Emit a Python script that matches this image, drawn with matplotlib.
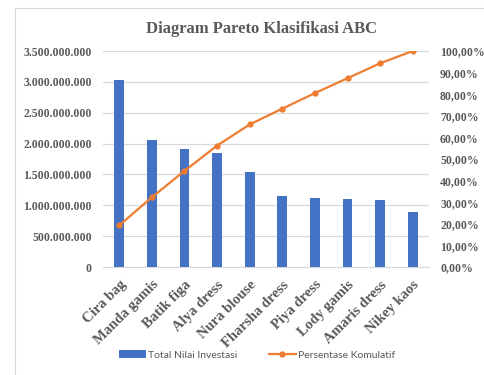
import matplotlib.pyplot as plt
from matplotlib.patches import Rectangle
from matplotlib.ticker import FuncFormatter, MultipleLocator

categories = ["Cira bag", "Manda gamis", "Batik figa", "Alya dress", "Nura blouse",
              "Fharsha dress", "Piya dress", "Lody gamis", "Amaris dress", "Nikey kaos"]
investasi = [3030000000, 2060000000, 1920000000, 1840000000, 1545000000,
             1150000000, 1120000000, 1100000000, 1080000000, 896000000]
kumulatif = [0.193, 0.323, 0.445, 0.562, 0.660, 0.733, 0.805, 0.874, 0.943, 1.0]

blue = "#4472C4"
orange = "#ED7D31"
gray = "#595959"
serif = ["Liberation Serif", "DejaVu Serif"]

fig = plt.figure(figsize=(4.85, 3.75), dpi=100)
fig.patches.append(Rectangle((15 / 485, -0.1), 1.2, 1 - 8 / 375 + 0.1, transform=fig.transFigure,
                             fill=False, edgecolor="#D9D9D9", linewidth=0.8))
ax = fig.add_axes([103 / 485, 1 - 267 / 375, 326 / 485, 216 / 375])
ax2 = ax.twinx()

x = range(len(categories))
b = ax.bar(x, investasi, width=0.3, color=blue, zorder=3, label="Total Nilai Investasi")
l, = ax2.plot(x, kumulatif, color=orange, linewidth=1.6, marker="o", markersize=3.5,
              label="Persentase Komulatif", zorder=4)

ax.set_xlim(-0.5, len(categories) - 0.5)
ax.set_ylim(0, 3500000000)
ax.yaxis.set_major_locator(MultipleLocator(500000000))
ax.yaxis.set_major_formatter(FuncFormatter(lambda v, p: f"{int(v):,}".replace(",", ".")))
ax2.set_ylim(0, 1.0)
ax2.yaxis.set_major_locator(MultipleLocator(0.1))
ax2.yaxis.set_major_formatter(FuncFormatter(lambda v, p: f"{v * 100:.2f}%".replace(".", ",")))

ax.grid(axis="y", color="#D9D9D9", linewidth=0.9, zorder=0)
for a in (ax, ax2):
    for s in a.spines.values():
        s.set_visible(False)
    a.tick_params(length=0, pad=8, colors=gray)
ax.spines["bottom"].set_visible(True)
ax.spines["bottom"].set_color("#D9D9D9")

ax.set_xticks(list(x))
ax.set_xticklabels(categories, rotation=45, ha="right", rotation_mode="anchor",
                   fontfamily=serif, fontsize=10.5, fontweight="bold", color=gray)
ax.tick_params(axis="x", pad=8)
for t in ax.get_yticklabels() + ax2.get_yticklabels():
    t.set_fontfamily(serif)
    t.set_fontsize(8.5)
    t.set_fontweight("bold")

fig.text(262 / 485, 1 - 29 / 375, "Diagram Pareto Klasifikasi ABC", ha="center", va="center",
         fontfamily=serif, fontsize=12, fontweight="bold", color=gray)

fig.legend([b, l], ["Total Nilai Investasi", "Persentase Komulatif"], loc="center",
           bbox_to_anchor=(257 / 485, 1 - 355 / 375), ncol=2, frameon=False,
           prop={"family": "Lato", "size": 7.5}, labelcolor=gray,
           handlelength=2.6, columnspacing=3, handletextpad=0.2)

fig.savefig("out.png", dpi=100)
